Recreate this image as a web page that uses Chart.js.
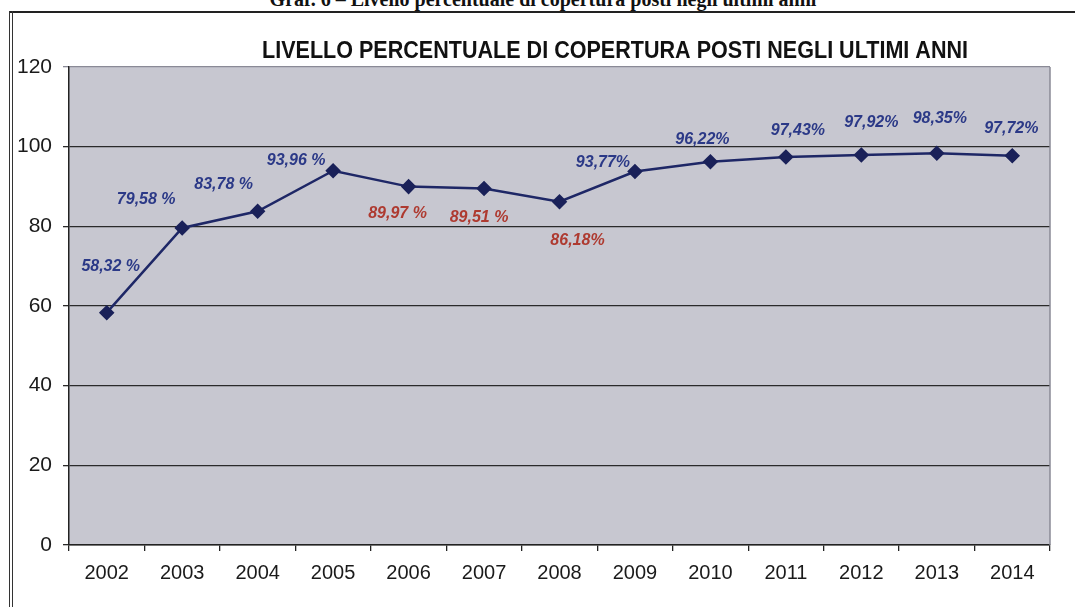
<!DOCTYPE html>
<html>
<head>
<meta charset="utf-8">
<script src="https://cdn.jsdelivr.net/npm/chart.js@4.4.0/dist/chart.umd.min.js"></script>
<style>
  body { margin: 0; background: #fff; width: 1075px; height: 607px; overflow: hidden; position: relative; }
  #header { position: absolute; top: -12px; left: 0; width: 1086px; text-align: center;
            font: bold 20px "Liberation Serif", "DejaVu Serif", serif; color: #111; white-space: nowrap; }
  #frameTop { position: absolute; top: 11px; left: 10px; right: 0; height: 0; border-top: 2px solid #222; }
  #frameLeft { position: absolute; top: 11px; left: 9px; width: 2px; bottom: 0; border-left: 1px solid #333; border-right: 1px solid #333; }
  #wrap { position: absolute; left: 0; top: 0; width: 1075px; height: 607px; }
</style>
</head>
<body>
<div id="header">Graf. 6 – Livello percentuale di copertura posti negli ultimi anni</div>
<div id="frameTop"></div>
<div id="frameLeft"></div>
<div id="wrap"><canvas id="chart" width="1075" height="607"></canvas></div>
<script>
const chartTitle = 'LIVELLO PERCENTUALE DI COPERTURA POSTI NEGLI ULTIMI ANNI';
const years = ['2002', '2003', '2004', '2005', '2006', '2007', '2008', '2009', '2010', '2011', '2012', '2013', '2014'];
const coverage = [58.32, 79.58, 83.78, 93.96, 89.97, 89.51, 86.18, 93.77, 96.22, 97.43, 97.92, 98.35, 97.72];
const pointLabels = ['58,32 %', '79,58 %', '83,78 %', '93,96 %', '89,97 %', '89,51 %', '86,18%', '93,77%', '96,22%', '97,43%', '97,92%', '98,35%', '97,72%'];
const yTicks = [0, 20, 40, 60, 80, 100, 120];

// where each value label sits relative to its point, and its colour
const labelOffsets = [[4, -46], [-36, -28], [-34, -27], [-37, -10], [-11, 27], [-5, 29], [18, 39],
                      [-32, -9], [-8, -22], [12, -26], [10, -32], [3, -35], [-1, -27]];
const blue = '#2b3987';
const red = '#ae3a30';
const labelColors = [blue, blue, blue, blue, red, red, red, blue, blue, blue, blue, blue, blue];

const plotBackground = {
    id: 'plotBackground',
    beforeDraw(chart) {
        const { ctx, chartArea: a } = chart;
        ctx.save();
        ctx.fillStyle = '#c7c7d0';
        ctx.fillRect(a.left, a.top, a.right - a.left, a.bottom - a.top);
        ctx.restore();
    },
    beforeDatasetsDraw(chart) {
        const { ctx, chartArea: a } = chart;
        ctx.save();
        ctx.strokeStyle = '#8a8a96';
        ctx.lineWidth = 1.5;
        ctx.beginPath();
        ctx.moveTo(a.right, a.top);
        ctx.lineTo(a.right, a.bottom);
        ctx.stroke();
        ctx.restore();
    }
};

const valueLabels = {
    id: 'valueLabels',
    afterDatasetsDraw(chart) {
        const ctx = chart.ctx;
        const meta = chart.getDatasetMeta(0);
        ctx.save();
        ctx.font = 'italic bold 16px "Liberation Sans", Arial, sans-serif';
        ctx.textAlign = 'center';
        ctx.textBaseline = 'middle';
        meta.data.forEach((pt, i) => {
            ctx.fillStyle = labelColors[i];
            ctx.fillText(pointLabels[i], pt.x + labelOffsets[i][0], pt.y + labelOffsets[i][1]);
        });
        ctx.restore();
    }
};

// title is a narrow bold face in the original, so squeeze it to its width
const squeezedTitle = {
    id: 'squeezedTitle',
    afterDraw(chart) {
        const ctx = chart.ctx;
        ctx.save();
        ctx.font = 'bold 23px "Liberation Sans", Arial, sans-serif';
        ctx.fillStyle = '#111';
        ctx.textAlign = 'center';
        ctx.textBaseline = 'middle';
        const w = ctx.measureText(chartTitle).width;
        ctx.translate(615, 52);
        ctx.scale(706 / w, 1);
        ctx.fillText(chartTitle, 0, 0);
        ctx.restore();
    }
};

const ctx = document.getElementById('chart').getContext('2d');
const chart = new Chart(ctx, {
    type: 'line',
    data: {
        labels: years,
        datasets: [{
            data: coverage,
            borderColor: '#1e2766',
            borderWidth: 2.5,
            pointStyle: 'rectRot',
            pointRadius: 6,
            pointBackgroundColor: '#1a2159',
            pointBorderColor: '#1a2159',
            tension: 0
        }]
    },
    options: {
        responsive: false,
        animation: false,
        layout: { padding: { left: 0, top: 67, right: 25, bottom: 0 } },
        plugins: {
            legend: { display: false },
            title: { display: false },
            tooltip: { enabled: false }
        },
        scales: {
            x: {
                offset: true,
                afterFit(scale) { scale.height = 62; },
                grid: { offset: true, drawOnChartArea: false, tickLength: 6, color: '#222', lineWidth: 1.3 },
                border: { color: '#222', width: 1.5 },
                ticks: { color: '#1a1a1a', padding: 10, font: { family: '"Liberation Sans", Arial, sans-serif', size: 20 } }
            },
            y: {
                min: 0,
                max: 120,
                afterFit(scale) { scale.width = 69; },
                afterBuildTicks(scale) { scale.ticks = yTicks.map(v => ({ value: v })); },
                grid: {
                    tickLength: 6,
                    lineWidth: 1.3,
                    color: c => (c.tick && c.tick.value === 120) ? '#8a8a96' : '#2a2a2a'
                },
                border: { color: '#222', width: 1.5 },
                ticks: { color: '#1a1a1a', padding: 11, font: { family: '"Liberation Sans", Arial, sans-serif', size: 21 } }
            }
        }
    },
    plugins: [plotBackground, valueLabels, squeezedTitle]
});
</script>
</body>
</html>
